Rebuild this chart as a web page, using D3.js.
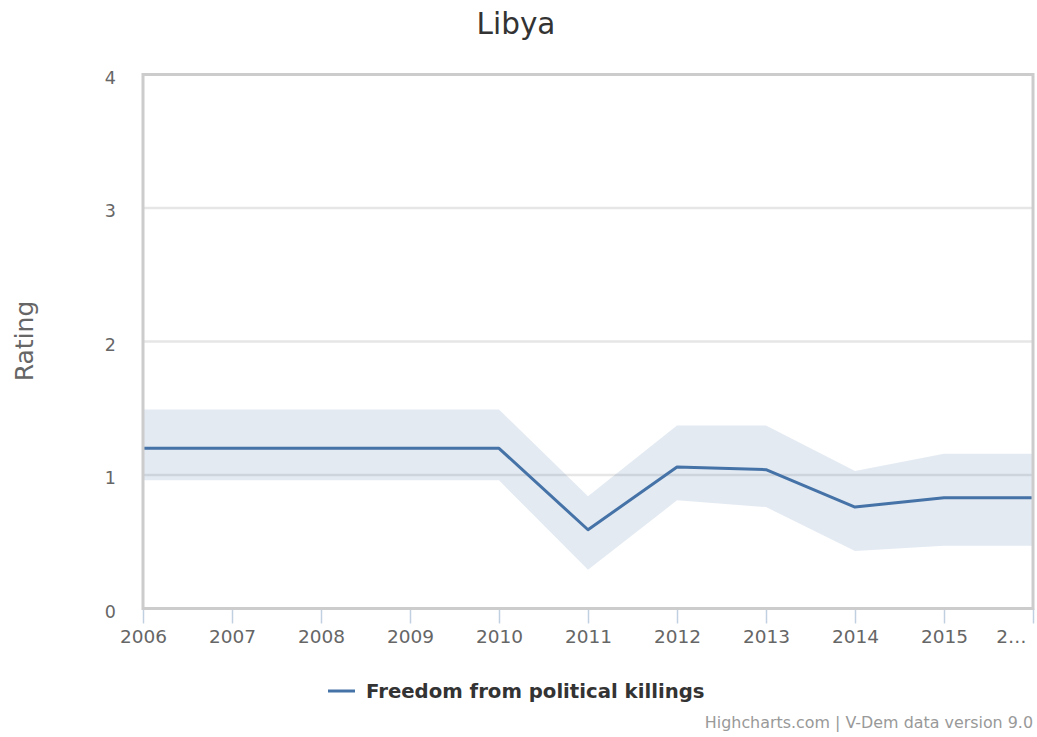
<!DOCTYPE html>
<html>
<head>
<meta charset="utf-8">
<script src="https://cdn.jsdelivr.net/npm/d3@7"></script>
<style>
  html, body { margin: 0; padding: 0; background: #fff; }
  svg { display: block; font-family: "DejaVu Sans", sans-serif; }
</style>
</head>
<body>
<svg id="chart" width="1037" height="737"></svg>
<script>
// Libya — Freedom from political killings (V-Dem), point estimate with uncertainty band
const years      = [2006, 2007, 2008, 2009, 2010, 2011, 2012, 2013, 2014, 2015, 2016];
const rating     = [1.20, 1.20, 1.20, 1.20, 1.20, 0.59, 1.06, 1.04, 0.76, 0.83, 0.83];
const ratingHigh = [1.49, 1.49, 1.49, 1.49, 1.49, 0.84, 1.37, 1.37, 1.03, 1.16, 1.16];
const ratingLow  = [0.96, 0.96, 0.96, 0.96, 0.96, 0.29, 0.81, 0.76, 0.43, 0.47, 0.47];
const yTicks     = [0, 1, 2, 3, 4];

const titleText  = "Libya";
const yTitle     = "Rating";
const seriesName = "Freedom from political killings";
const creditText = "Highcharts.com | V-Dem data version 9.0";

const W = 1037, H = 737;
const plot = { left: 143, right: 1033, top: 74.5, bottom: 608.5 };

const svg = d3.select("#chart");

const x = d3.scaleLinear().domain([years[0], years[years.length - 1]]).range([plot.left, plot.right]);
const y = d3.scaleLinear().domain([0, 4]).range([plot.bottom, plot.top]);

// horizontal grid lines
svg.append("g")
  .selectAll("line")
  .data(yTicks.filter(d => d > 0 && d < 4))
  .join("line")
  .attr("x1", plot.left).attr("x2", plot.right)
  .attr("y1", d => y(d)).attr("y2", d => y(d))
  .attr("stroke", "#e6e6e6").attr("stroke-width", 2.5);

// uncertainty band
const rows = years.map((yr, i) => ({ yr, v: rating[i], hi: ratingHigh[i], lo: ratingLow[i] }));
svg.append("path")
  .datum(rows)
  .attr("d", d3.area().x(d => x(d.yr)).y0(d => y(d.lo)).y1(d => y(d.hi)))
  .attr("fill", "rgba(69,114,167,0.15)");

// estimate line
svg.append("path")
  .datum(rows)
  .attr("d", d3.line().x(d => x(d.yr)).y(d => y(d.v)))
  .attr("fill", "none")
  .attr("stroke", "#4572a7")
  .attr("stroke-width", 3)
  .attr("stroke-linejoin", "round");

// x axis ticks and labels
const xAxis = d3.axisBottom(x)
  .tickValues(years)
  .tickFormat(d3.format("d"))
  .tickSize(15)
  .tickSizeOuter(0)
  .tickPadding(6);
const gx = svg.append("g")
  .attr("transform", `translate(0,${plot.bottom})`)
  .call(xAxis);
gx.select(".domain").remove();
gx.selectAll(".tick line").attr("stroke", "#c0d0e0").attr("stroke-width", 1.5);
gx.selectAll(".tick text")
  .attr("font-family", "DejaVu Sans, sans-serif")
  .attr("font-size", 18.5)
  .attr("fill", "#666");
// shorten any label that would run past the right edge, keeping it inside the chart
gx.selectAll(".tick text").each(function (d) {
  const t = d3.select(this);
  const cx = x(d);
  const limit = W - 11;
  if (cx + this.getComputedTextLength() / 2 <= limit) return;
  let s = t.text();
  t.attr("text-anchor", "end").attr("x", limit - cx);
  while (s.length > 1) {
    s = s.slice(0, -1);
    t.text(s + "…");
    if (this.getComputedTextLength() <= 2 * (limit - cx) + 10) break;
  }
});

// y axis labels
const gy = svg.append("g");
gy.selectAll("text")
  .data(yTicks)
  .join("text")
  .attr("x", 116)
  .attr("y", d => y(d) + 4)
  .attr("text-anchor", "end")
  .attr("dominant-baseline", "middle")
  .attr("font-size", 17.5)
  .attr("fill", "#666")
  .text(d => d);

// plot frame
svg.append("rect")
  .attr("x", plot.left).attr("y", plot.top)
  .attr("width", plot.right - plot.left).attr("height", plot.bottom - plot.top)
  .attr("fill", "none")
  .attr("stroke", "#cccccc")
  .attr("stroke-width", 3);

// title
svg.append("text")
  .attr("x", 516).attr("y", 34)
  .attr("text-anchor", "middle")
  .attr("font-size", 29.5)
  .attr("fill", "#333")
  .text(titleText);

// y axis title
svg.append("text")
  .attr("transform", `translate(33,341) rotate(-90)`)
  .attr("text-anchor", "middle")
  .attr("font-size", 25)
  .attr("fill", "#666")
  .text(yTitle);

// legend
const lg = svg.append("g").attr("transform", "translate(328,691)");
lg.append("line")
  .attr("x1", 0).attr("x2", 27).attr("y1", 0).attr("y2", 0)
  .attr("stroke", "#4572a7").attr("stroke-width", 3);
lg.append("text")
  .attr("x", 38).attr("y", 1)
  .attr("dominant-baseline", "middle")
  .attr("font-size", 19.7)
  .attr("font-weight", "bold")
  .attr("fill", "#333")
  .text(seriesName);

// credits
svg.append("text")
  .attr("x", 1033).attr("y", 728)
  .attr("text-anchor", "end")
  .attr("font-size", 15.9)
  .attr("fill", "#999")
  .text(creditText);
</script>
</body>
</html>
